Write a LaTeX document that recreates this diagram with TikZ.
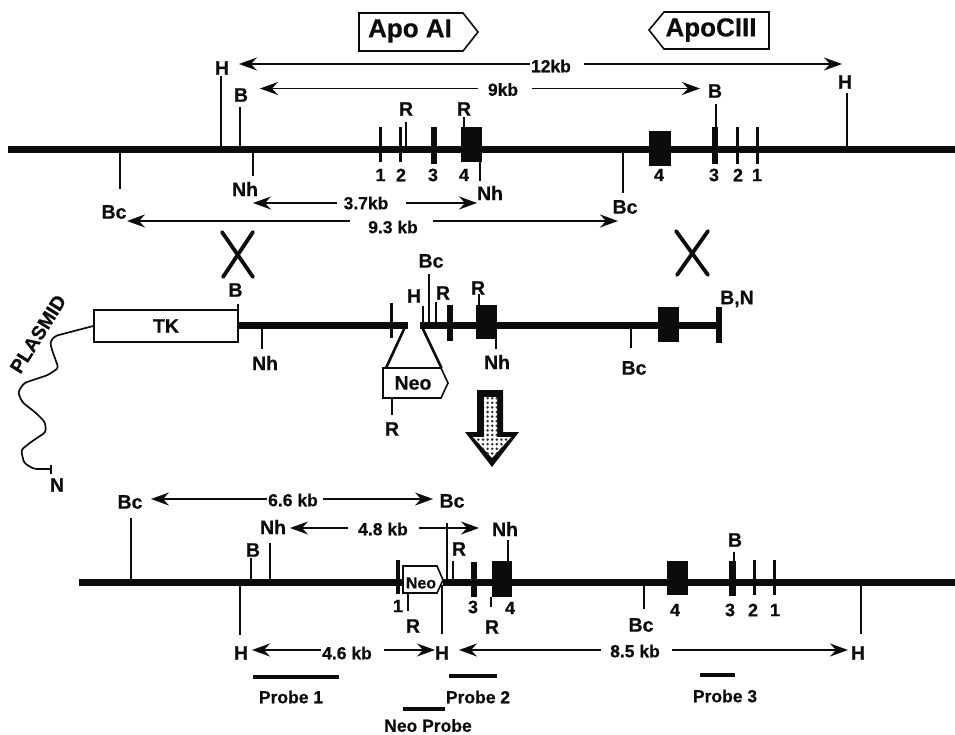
\documentclass[tikz,border=0pt]{standalone}
\usepackage{fontspec}
\setmainfont[BoldFeatures={FakeBold=0.5}]{Liberation Sans}
\usepackage{tikz}
\usetikzlibrary{arrows.meta, patterns.meta}

\definecolor{inkblack}{RGB}{12, 12, 12}

\tikzset{
  dna/.style={inkblack, line width=7pt},
  site/.style={inkblack, line width=2pt},
  exon/.style={fill=inkblack, draw=none},
  probe/.style={inkblack, line width=4.5pt},
  dim/.style={inkblack, line width=1.5pt, -{Stealth[length=18pt, width=13pt, inset=6pt]}},
  lab/.style={font=\fontsize{19.5}{19.5}\bfseries\selectfont, text=inkblack, inner sep=0pt},
  kb/.style={font=\fontsize{17.5}{17.5}\bfseries\selectfont, text=inkblack, inner sep=0pt},
  num/.style={font=\fontsize{18}{18}\bfseries\selectfont, text=inkblack, inner sep=0pt},
  tag/.style={draw=inkblack, line width=1.6pt, fill=white},
  cross/.style={inkblack, line width=3.8pt, line cap=round}
}

\begin{document}
\begin{tikzpicture}[x=1pt, y=-1pt]
  \useasboundingbox[fill=white] (0,0) rectangle (955,734);

  % gene tags
  \draw[tag] (359,13) -- (463,13) -- (478,32) -- (463,51) -- (359,51) -- cycle;
  \node[lab, font=\fontsize{26}{26}\bfseries\selectfont] (apoai) at (410,31) {Apo AI};
  \draw[tag] (769,12) -- (664,12) -- (649,30) -- (664,49) -- (769,49) -- cycle;
  \node[lab, font=\fontsize{26}{26}\bfseries\selectfont] (apociii) at (711,30) {ApoCIII};

  % top locus
  \draw[dna] (8,149.5) -- (955,149.5);
  \fill[exon] (379,127) rectangle (382,162);
  \fill[exon] (398.5,127) rectangle (401.5,162);
  \fill[exon] (431,127) rectangle (437,164);
  \fill[exon] (461,127) rectangle (482,162);
  \fill[exon] (649,131) rectangle (671,166);
  \fill[exon] (712,127) rectangle (718,164);
  \fill[exon] (735.5,127) rectangle (738.5,164);
  \fill[exon] (755.5,127) rectangle (758.5,164);
  \draw[site] (221,76) -- (221,148);
  \draw[site] (240,107) -- (240,148);
  \draw[site] (119.5,150) -- (119.5,189);
  \draw[site] (253,150) -- (253,176);
  \draw[site] (405.5,122) -- (405.5,148);
  \draw[site] (463.5,117) -- (463.5,127);
  \draw[site] (480,160) -- (480,181);
  \draw[site] (623,151) -- (623,193);
  \draw[site] (715.5,104) -- (715.5,127);
  \draw[site] (847,93) -- (847,148);
  \node[lab] (h1) at (222,68) {H};
  \node[lab] (b1) at (241,95) {B};
  \node[lab] (bc1) at (114,212) {Bc};
  \node[lab] (nh1) at (245,189) {Nh};
  \node[lab] (r1) at (406,109) {R};
  \node[lab] (r2) at (464,109) {R};
  \node[lab] (nh2) at (490,193) {Nh};
  \node[lab] (bc2) at (625,207) {Bc};
  \node[lab] (b2) at (715,91) {B};
  \node[lab] (h2) at (845,82) {H};
  \node[num] (ai1) at (380.5,175) {1};
  \node[num] (ai2) at (401,175) {2};
  \node[num] (ai3) at (433,175) {3};
  \node[num] (ai4) at (464,175) {4};
  \node[num] (ciii4) at (659,175) {4};
  \node[num] (ciii3) at (714,175) {3};
  \node[num] (ciii2) at (738,175) {2};
  \node[num] (ciii1) at (757,175) {1};

  % top distances
  \node[kb] (kb12) at (551,66) {12kb};
  \coordinate (kb12l) at (239,64);
  \coordinate (kb12r) at (842,64);
  \draw[dim] ([xshift=-1pt]kb12.west |- kb12l) -- (kb12l);
  \draw[dim] ([xshift=13pt]kb12.east |- kb12r) -- (kb12r);
  \node[kb] (kb9) at (503,89.5) {9kb};
  \coordinate (kb9l) at (260,88.5);
  \coordinate (kb9r) at (700,88.5);
  \draw[dim] ([xshift=-10pt]kb9.west |- kb9l) -- (kb9l);
  \draw[dim] ([xshift=14pt]kb9.east |- kb9r) -- (kb9r);
  \node[kb] (kb37) at (366,203) {3.7kb};
  \coordinate (kb37l) at (253,203);
  \coordinate (kb37r) at (477,203);
  \draw[dim] ([xshift=-6pt]kb37.west |- kb37l) -- (kb37l);
  \draw[dim] ([xshift=17pt]kb37.east |- kb37r) -- (kb37r);
  \node[kb] (kb93) at (393,227) {9.3 kb};
  \coordinate (kb93l) at (127,221);
  \coordinate (kb93r) at (618,221);
  \draw[dim] ([xshift=-18pt]kb93.west |- kb93l) -- (kb93l);
  \draw[dim] ([xshift=15pt]kb93.east |- kb93r) -- (kb93r);

  % crossovers
  \draw[cross] (222,232) -- (253,277);
  \draw[cross] (253,232) -- (223,277);
  \draw[cross] (676,231) -- (708,275);
  \draw[cross] (708,231) -- (677,275);

  % targeting plasmid
  \draw[dna] (238,325) -- (408,325);
  \draw[dna] (420,325) -- (718,325);
  \fill[exon] (389.5,303) rectangle (392.5,338);
  \fill[exon] (447,305) rectangle (453,341);
  \fill[exon] (476,305) rectangle (497,339);
  \fill[exon] (658,307) rectangle (679,342);
  \fill[exon] (716,307) rectangle (722,343);
  \draw[site] (238,304) -- (238,322);
  \draw[site] (262,327) -- (262,349);
  \draw[site] (423,306) -- (423,322);
  \draw[site] (429,274) -- (429,322);
  \draw[site] (436,302) -- (436,322);
  \draw[site] (479,294) -- (479,305);
  \draw[site] (496,337) -- (496,349);
  \draw[site] (631,327) -- (631,348);
  \draw[site] (392,398) -- (392,415);
  \draw[line width=2.6pt, inkblack] (405,327) -- (386,368);
  \draw[line width=2.6pt, inkblack] (422,327) -- (441.5,368);
  \draw[tag] (383,368) -- (441,368) -- (448,383) -- (441,398) -- (383,398) -- cycle;
  \node[lab] (neo1) at (413,383) {Neo};
  \node[tag, minimum width=144pt, minimum height=32pt, line width=1.5pt, inner sep=0pt] (tk) at (166,326) {};
  \node[lab] at (tk.center) {TK};
  \node[lab] (b3) at (235.5,290) {B};
  \node[lab] (nh3) at (265,363) {Nh};
  \node[lab] (h3) at (414,296) {H};
  \node[lab] (bc3) at (431,261) {Bc};
  \node[lab] (r3) at (443,293) {R};
  \node[lab] (r4) at (478,288) {R};
  \node[lab] (nh4) at (497,362) {Nh};
  \node[lab] (r5) at (392,429) {R};
  \node[lab] (bc4) at (634,368) {Bc};
  \node[lab] (bn) at (737,299) {B,N};
  \node[lab, rotate=58] (plasmid) at (38,334) {PLASMID};
  \node[lab] (n1) at (57,485) {N};
  \draw[inkblack, line width=1.7pt, rounded corners=3pt] (tk.west) -- (55,336) -- (50,342) -- (52,350)
    -- (58.5,368) -- (48,375) -- (24,383) -- (18,392) -- (22,402) -- (36,413) -- (45,422) -- (46,432)
    -- (31,442) -- (21,450) -- (24,463) -- (34,469) -- (50.6,469);
  \draw[site] (50.6,465) -- (50.6,474);

  % big arrow
  \fill[inkblack] (477,390) -- (503,390) -- (503,432) -- (519,432) -- (492,467) -- (465,432) -- (477,432) -- cycle;
  \fill[white] (484,397) -- (497,397) -- (497,437) -- (511,437) -- (492,458) -- (473,437) -- (484,437) -- cycle;
  \fill[pattern={Dots[distance=4.6pt, radius=1.4pt]}, pattern color=inkblack!85] (484,397) -- (497,397) -- (497,437) -- (511,437) -- (492,458) -- (473,437) -- (484,437) -- cycle;

  % targeted locus
  \draw[dna] (79,582) -- (403,582);
  \draw[dna] (443,582) -- (955,582);
  \fill[exon] (396,560) rectangle (400,594);
  \fill[exon] (471,562) rectangle (477,597);
  \fill[exon] (492,561) rectangle (512,597);
  \fill[exon] (667,561) rectangle (688,595);
  \fill[exon] (729,561) rectangle (736,596);
  \fill[exon] (752.5,560) rectangle (755.5,595);
  \fill[exon] (772.5,560) rectangle (775.5,595);
  \draw[tag] (403,566) -- (437,566) -- (443,580) -- (437,593) -- (403,593) -- cycle;
  \node[lab, font=\fontsize{16}{16}\bfseries\selectfont] (neo2) at (421,583) {Neo};
  \draw[site] (131,518) -- (131,579);
  \draw[site] (240,585) -- (240,635);
  \draw[site] (251,558) -- (251,579);
  \draw[site] (270,543) -- (270,579);
  \draw[site] (408,593) -- (408,611);
  \draw[site] (442,585) -- (442,634);
  \draw[site] (447,523) -- (447,579);
  \draw[site] (453,561) -- (453,579);
  \draw[site] (491,597) -- (491,607);
  \draw[site] (508,540) -- (508,561);
  \draw[site] (644,585) -- (644,609);
  \draw[site] (734,552) -- (734,561);
  \draw[site] (861,585) -- (861,634);
  \node[lab] (bc5) at (130,502) {Bc};
  \node[lab] (bc6) at (452,501) {Bc};
  \node[lab] (nh5) at (273,527) {Nh};
  \node[lab] (nh6) at (505,529) {Nh};
  \node[lab] (b4) at (253,550) {B};
  \node[lab] (r6) at (459,549) {R};
  \node[lab] (r7) at (413,626) {R};
  \node[lab] (r8) at (492,627) {R};
  \node[lab] (bc7) at (641,625) {Bc};
  \node[lab] (b5) at (735,540) {B};
  \node[lab] (h4) at (241,653) {H};
  \node[lab] (h5) at (442,653) {H};
  \node[lab] (h6) at (858,653) {H};
  \node[num] (ko1) at (398,606) {1};
  \node[num] (ko3) at (473,607) {3};
  \node[num] (ko4) at (510,608) {4};
  \node[num] (cc4) at (675,610) {4};
  \node[num] (cc3) at (730,610) {3};
  \node[num] (cc2) at (753,610) {2};
  \node[num] (cc1) at (775,610) {1};

  % lower distances
  \node[kb] (kb66) at (293,500) {6.6 kb};
  \coordinate (kb66l) at (151,499);
  \coordinate (kb66r) at (433,499);
  \draw[dim] ([xshift=-1pt]kb66.west |- kb66l) -- (kb66l);
  \draw[dim] ([xshift=5pt]kb66.east |- kb66r) -- (kb66r);
  \node[kb] (kb48) at (383,529) {4.8 kb};
  \coordinate (kb48l) at (290,528);
  \coordinate (kb48r) at (479,528);
  \draw[dim] ([xshift=-10pt]kb48.west |- kb48l) -- (kb48l);
  \draw[dim] ([xshift=11pt]kb48.east |- kb48r) -- (kb48r);
  \node[kb] (kb46) at (347,653) {4.6 kb};
  \coordinate (kb46l) at (252,650);
  \coordinate (kb46r) at (435,650);
  \draw[dim] ([xshift=-1pt]kb46.west |- kb46l) -- (kb46l);
  \draw[dim] ([xshift=12pt]kb46.east |- kb46r) -- (kb46r);
  \node[kb] (kb85) at (635,651) {8.5 kb};
  \coordinate (kb85l) at (459,650);
  \coordinate (kb85r) at (848,650);
  \draw[dim] ([xshift=-9pt]kb85.west |- kb85l) -- (kb85l);
  \draw[dim] ([xshift=12pt]kb85.east |- kb85r) -- (kb85r);

  % probes
  \draw[probe] (253,677) -- (339,677);
  \draw[probe] (449,676) -- (497,676);
  \draw[probe] (403,709) -- (445,709);
  \draw[probe] (700,675) -- (735,675);
  \node[kb] (probe1) at (291,697) {Probe 1};
  \node[kb] (probe2) at (478,697) {Probe 2};
  \node[kb] (neoprobe) at (428,725.5) {Neo Probe};
  \node[kb] (probe3) at (725,696) {Probe 3};
\end{tikzpicture}
\end{document}
